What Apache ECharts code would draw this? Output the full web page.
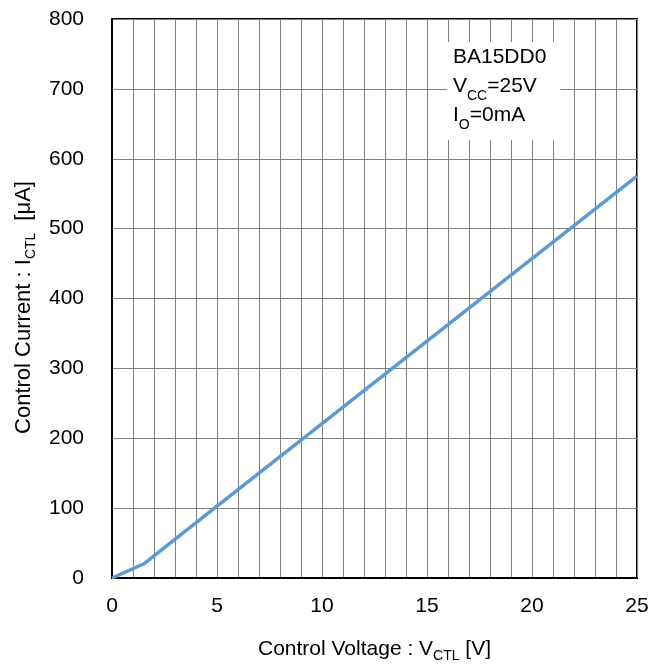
<!DOCTYPE html>
<html>
<head>
<meta charset="utf-8">
<script src="https://cdn.jsdelivr.net/npm/echarts@6/dist/echarts.min.js"></script>
<style>
  html, body { margin: 0; padding: 0; background: #fff; }
  #chart { width: 662px; height: 669px; }
</style>
</head>
<body>
<div id="chart"></div>
<script>
// Control voltage (V) and the resulting control current (µA)
const voltage = [0, 1.5, 5, 10, 15, 20, 25];
const current = [0, 20, 103, 221, 339, 457, 575];

const xTicks = [0, 5, 10, 15, 20, 25];
const yTicks = [0, 100, 200, 300, 400, 500, 600, 700, 800];

const FONT = '"Liberation Sans", Arial, sans-serif';
const points = voltage.map((v, i) => [v, current[i]]);

const chart = echarts.init(document.getElementById('chart'), null, { renderer: 'canvas' });

chart.setOption({
  animation: false,
  backgroundColor: '#fff',
  textStyle: { fontFamily: FONT, color: '#000' },
  grid: {
    left: 112, right: 25, top: 19, bottom: 91,
    show: true, borderColor: '#000', borderWidth: 2, backgroundColor: 'transparent'
  },
  // Condition note in the upper right of the plot
  title: {
    left: 447, top: 38,
    backgroundColor: '#fff',
    padding: [5, 14, 8, 6],
    text: '{a|BA15DD0}\n{a|V}{s|CC}{a|=25V}\n{a|I}{s|O}{a|=0mA}',
    textStyle: {
      fontFamily: FONT, fontWeight: 'normal', color: '#000',
      rich: {
        a: { fontFamily: FONT, fontSize: 21, lineHeight: 29, color: '#000' },
        s: { fontFamily: FONT, fontSize: 14, lineHeight: 29, color: '#000', verticalAlign: 'bottom', padding: [0, 0, -2, 0] }
      }
    }
  },
  xAxis: {
    type: 'value',
    min: xTicks[0], max: xTicks[xTicks.length - 1], interval: 5,
    name: 'Control Voltage : V{s|CTL} [V]',
    nameLocation: 'middle', nameGap: 61,
    nameTextStyle: {
      fontFamily: FONT, fontSize: 21, color: '#000',
      rich: { s: { fontFamily: FONT, fontSize: 14, color: '#000', verticalAlign: 'bottom', padding: [0, 0, -3, 0] } }
    },
    axisLine: { show: true, onZero: false, lineStyle: { color: '#000', width: 2 } },
    axisTick: { show: false },
    minorTick: { show: false, splitNumber: 5 },
    axisLabel: { fontFamily: FONT, fontSize: 21, color: '#000', margin: 18 },
    splitLine: { show: true, lineStyle: { color: '#808080', width: 1 } },
    minorSplitLine: { show: true, lineStyle: { color: '#808080', width: 1 } }
  },
  yAxis: {
    type: 'value',
    min: yTicks[0], max: yTicks[yTicks.length - 1], interval: 100,
    name: 'Control Current : I{s|CTL}{g|}[μA]{e|}',
    nameLocation: 'middle', nameGap: 77,
    nameTextStyle: {
      fontFamily: FONT, fontSize: 22, color: '#000',
      rich: {
        s: { fontFamily: FONT, fontSize: 14, color: '#000', verticalAlign: 'bottom', padding: [0, 0, -3, 0] },
        g: { width: 12 },
        e: { width: 18 }
      }
    },
    axisLine: { show: true, onZero: false, lineStyle: { color: '#000', width: 2 } },
    axisTick: { show: false },
    axisLabel: { fontFamily: FONT, fontSize: 21, color: '#000', margin: 28 },
    splitLine: { show: true, lineStyle: { color: '#808080', width: 1 } }
  },
  series: [{
    type: 'line',
    data: points,
    showSymbol: false,
    symbol: 'none',
    z: 5,
    lineStyle: { color: '#5b9bd5', width: 3.5 }
  }]
});
</script>
</body>
</html>
